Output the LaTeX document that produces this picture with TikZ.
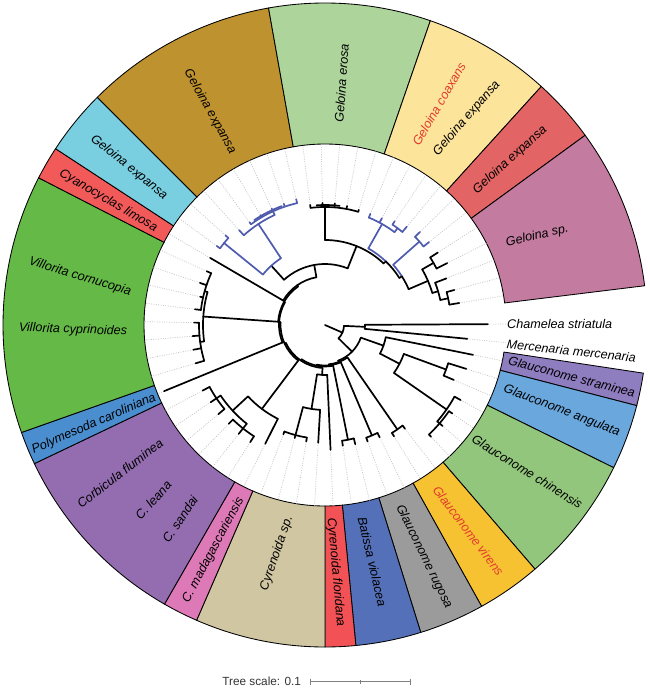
\documentclass[tikz,border=0pt]{standalone}
\usepackage{fontspec}
\setmainfont{Liberation Sans}
\definecolor{cSp}{HTML}{C47BA0}
\definecolor{cRedA}{HTML}{E36464}
\definecolor{cYel}{HTML}{FDE49B}
\definecolor{cEro}{HTML}{ADD59B}
\definecolor{cBrn}{HTML}{BF9230}
\definecolor{cCyn}{HTML}{79CEE0}
\definecolor{cRedB}{HTML}{F25A5A}
\definecolor{cVil}{HTML}{65BA47}
\definecolor{cPol}{HTML}{4A8ECF}
\definecolor{cCor}{HTML}{936DB0}
\definecolor{cPnk}{HTML}{DC79B6}
\definecolor{cTan}{HTML}{D1C6A2}
\definecolor{cRedC}{HTML}{F25255}
\definecolor{cBat}{HTML}{5470B8}
\definecolor{cGry}{HTML}{9B9B9B}
\definecolor{cVir}{HTML}{F6C232}
\definecolor{cChi}{HTML}{92C67C}
\definecolor{cAng}{HTML}{69A7DC}
\definecolor{cStr}{HTML}{8E7DBF}
\definecolor{treeblue}{HTML}{4E5BAE}
\definecolor{labred}{HTML}{E23B2E}
\definecolor{dotgray}{HTML}{C4C4C4}
\newcommand\ringsec[3]{\filldraw[secst, fill=#3] (#1:181pt) arc[start angle=#1, end angle=#2, radius=181pt] -- (#2:322pt) arc[start angle=#2, end angle=#1, radius=322pt] -- cycle;}
\newcommand\trrad[4][tr]{\draw[#1] (#2:#3pt) -- (#2:#4pt);}
\newcommand\trarc[4][tr]{\draw[#1] (#2:#4pt) arc[start angle=#2, end angle=#3, radius=#4pt];}
\newcommand\tleaf[4][tr]{\draw[dotl] (#2:#4pt) -- (#2:181pt); \draw[#1] (#2:#3pt) -- (#2:#4pt);}
\begin{document}
\begin{tikzpicture}[x=1pt,y=1pt,
  tr/.style={line width=1.7pt, line cap=round, black},
  trb/.style={line width=1.7pt, line cap=round, color=treeblue},
  dotl/.style={line width=0.7pt, dash pattern=on 1pt off 1.4pt, color=dotgray},
  secst/.style={draw=black, line width=0.85pt},
  lab/.style={font=\fontsize{12.6}{14}\selectfont\itshape, inner sep=0pt}]
\useasboundingbox (-325,-363) rectangle (325,325);
% ---------- ring of coloured ranges ----------
\ringsec{-8.6}{-14.5}{cStr}
\ringsec{-14.5}{-26.3}{cAng}
\ringsec{-26.3}{-49.3}{cChi}
\ringsec{-49.3}{-60.9}{cVir}
\ringsec{-60.9}{-72.7}{cGry}
\ringsec{-72.7}{-84.5}{cBat}
\ringsec{-84.5}{-90}{cRedC}
\ringsec{-90}{-113.5}{cTan}
\ringsec{-113.5}{-119.9}{cPnk}
\ringsec{-119.9}{-154.5}{cCor}
\ringsec{-154.5}{-160.5}{cPol}
\ringsec{-160.5}{-207.2}{cVil}
\ringsec{-207.2}{-213.2}{cRedB}
\ringsec{-213.2}{-225}{cCyn}
\ringsec{-225}{-259.9}{cBrn}
\ringsec{-259.9}{-289.1}{cEro}
\ringsec{-289.1}{-312.2}{cYel}
\ringsec{-312.2}{-323.9}{cRedA}
\ringsec{-323.9}{-353}{cSp}
% ---------- labels ----------
\node[lab, rotate=13] (l1) at (212.3,89) {Geloina sp.};
\node[lab, rotate=42] (l2) at (185,165) {Geloina expansa};
\node[lab, rotate=60, text=labred] (l3) at (114,221) {Geloina coaxans};
\node[lab, rotate=49] (l4) at (141.7,206.7) {Geloina expansa};
\node[lab, rotate=86] (l5) at (16.7,241.7) {Geloina erosa};
\node[lab, rotate=-61] (l6) at (-115,213.3) {Geloina expansa};
\node[lab, rotate=-39] (l7) at (-196,157.7) {Geloina expansa};
\node[lab, rotate=-30.5] (l8) at (-216.7,124.3) {Cyanocyclas limosa};
\node[lab, rotate=-17] (l9) at (-245,48.3) {Villorita cornucopia};
\node[lab, rotate=-2] (l10) at (-252,-5) {Villorita cyprinoides};
\node[lab, rotate=23.5] (l11) at (-231,-99) {Polymesoda caroliniana};
\node[lab, rotate=37.5] (l12) at (-205,-148.3) {Corbicula fluminea};
\node[lab, rotate=48] (l13) at (-171.7,-175) {C. leana};
\node[lab, rotate=56] (l14) at (-145,-194.3) {C. sandai};
\node[lab, rotate=62] (l15) at (-111.7,-225) {C. madagascariensis};
\node[lab, rotate=71] (l16) at (-48.3,-228.3) {Cyrenoida sp.};
\node[lab, rotate=-85] (l17) at (10.7,-247.3) {Cyrenoida floridana};
\node[lab, rotate=-77] (l18) at (47.3,-236.7) {Batissa violacea};
\node[lab, rotate=-64] (l19) at (99,-231.7) {Glauconome rugosa};
\node[lab, rotate=-53, text=labred] (l20) at (143.3,-205.7) {Glauconome virens};
\node[lab, rotate=-32] (l21) at (202.3,-146.7) {Glauconome chinensis};
\node[lab, rotate=-21] (l22) at (236.7,-85.7) {Glauconome angulata};
\node[lab, rotate=-14.5] (l23) at (246.7,-51.7) {Glauconome straminea};
\node[lab, rotate=-6, anchor=west] (l24) at (181.7,-19) {Mercenaria mercenaria};
\node[lab, anchor=west] (l25) at (182,1.5) {Chamelea striatula};
% ---------- tree scale ----------
\node[font=\fontsize{11.8}{13}\selectfont, text=black!80, inner sep=0pt] (ts) at (-63.3,-356.7) {Tree scale: 0.1};
\draw[gray, line width=0.7pt] (-15,-356.7) -- (85,-356.7);
\draw[gray, line width=0.7pt] (-15,-353.7) -- (-15,-359.7) (35,-354.7) -- (35,-358.7) (85,-353.7) -- (85,-359.7);
% ---------- tree ----------
% root, N1, N2
\trrad{-23.6}{0}{19}
\trarc{-2.625}{-44.6}{19}
\trrad{-2.625}{19}{40}
\trarc{0.3}{-5.55}{40}
\draw[dotl] (0.3:163pt) -- (0.3:183pt);
\trrad{0.3}{40}{163}
\draw[dotl] (-5.55:143pt) -- (-5.55:182pt);
\trrad{-5.55}{40}{143}
% L_G and Glauconome
\trrad{-44.6}{19}{38}
\trarc{-19.44}{-69.75}{38}
\trrad{-19.44}{38}{62}
\trarc{-11.4}{-27.49}{62}
\tleaf{-11.4}{62}{151}
\trrad{-27.49}{62}{84}
\trarc{-20.175}{-34.8}{84}
\trrad{-20.175}{84}{129}
\trarc{-17.25}{-23.1}{129}
\tleaf{-17.25}{129}{148}
\tleaf{-23.1}{129}{140}
\trrad{-34.8}{84}{148}
\trarc{-28.95}{-40.65}{148}
\tleaf{-28.95}{148}{155}
\trrad{-40.65}{148}{151}
\trarc{-34.8}{-46.5}{151}
\tleaf{-34.8}{151}{155}
\tleaf{-40.65}{151}{155}
\tleaf{-46.5}{151}{154}
% L_v virens
\trrad{-69.75}{38}{39.5}
\trarc{-55.275}{-84.23}{39.5}
\trrad{-55.275}{39.5}{127}
\trarc{-52.35}{-58.2}{127}
\tleaf{-52.35}{127}{131}
\tleaf{-58.2}{127}{131}
% L_r rugosa
\trrad{-84.23}{39.5}{40.5}
\trarc{-66.975}{-101.48}{40.5}
\trrad{-66.975}{40.5}{120}
\trarc{-64.05}{-69.9}{120}
\tleaf{-64.05}{120}{125}
\tleaf{-69.9}{120}{124}
% L_b Batissa
\trrad{-101.48}{40.5}{41.5}
\trarc{-78.675}{-124.28}{41.5}
\trrad{-78.675}{41.5}{117}
\trarc{-75.75}{-81.6}{117}
\tleaf{-75.75}{117}{123}
\tleaf{-81.6}{117}{122}
% L_B Cyrenoida
\trrad{-124.28}{41.5}{43}
\trarc{-93.3}{-155.26}{43}
\trrad{-93.3}{43}{50}
\trarc{-87.45}{-99.15}{50}
\tleaf{-87.45}{50}{125}
\trrad{-99.15}{50}{85}
\trarc{-93.3}{-105}{85}
\tleaf{-93.3}{85}{118}
\trrad{-105}{85}{114}
\trarc{-99.15}{-110.85}{114}
\tleaf{-99.15}{114}{118}
\tleaf{-105}{114}{117}
\tleaf{-110.85}{114}{117}
% L_P Corbicula
\trrad{-155.26}{43}{44.5}
\trarc{-126.94}{-183.58}{44.5}
\trrad{-126.94}{44.5}{105}
\trarc{-116.7}{-137.175}{105}
\tleaf{-116.7}{105}{133}
\trrad{-137.175}{105}{126}
\trarc{-128.4}{-145.95}{126}
\trrad{-128.4}{126}{132}
\trarc{-122.55}{-134.25}{132}
\tleaf{-122.55}{132}{139}
\tleaf{-128.4}{132}{139}
\tleaf{-134.25}{132}{138}
\trrad{-145.95}{126}{131}
\trarc{-140.1}{-151.8}{131}
\tleaf{-140.1}{131}{139}
\tleaf{-145.95}{131}{138}
\tleaf{-151.8}{131}{139}
% L_Po Polymesoda
\trrad{-183.58}{44.5}{46}
\trarc{-157.65}{-209.52}{46}
\tleaf{-157.65}{46}{174}
% L_V Villorita
\trrad{-209.52}{46}{47}
\trarc{-183.975}{-235.06}{47}
\trrad{-183.975}{47}{122}
\trarc{-172.275}{-195.675}{122}
\trrad{-172.275}{122}{126}
\trarc{-163.5}{-181.05}{126}
\tleaf{-163.5}{126}{135}
\tleaf{-169.35}{126}{134}
\tleaf{-175.2}{126}{133}
\tleaf{-181.05}{126}{131}
\trrad{-195.675}{122}{125}
\trarc{-186.9}{-204.45}{125}
\tleaf{-186.9}{125}{131}
\tleaf{-192.75}{125}{128}
\tleaf{-198.6}{125}{132}
\tleaf{-204.45}{125}{130}
% L_C Cyanocyclas
\trrad{-235.06}{47}{48.5}
\trarc{-210.3}{-259.82}{48.5}
\tleaf{-210.3}{48.5}{133}
% L_X
\trrad{-259.82}{48.5}{61}
\trarc{-227.84}{-291.8}{61}
% X (blue clade)
\trrad{-227.84}{61}{80}
\trarc[trb]{-219.075}{-236.6}{80}
\trrad[trb]{-219.075}{80}{130}
\trarc[trb]{-216.15}{-222}{130}
\tleaf[trb]{-216.15}{130}{134}
\tleaf[trb]{-222}{130}{134}
\trrad[trb]{-236.6}{80}{121}
\trarc[trb]{-227.85}{-245.4}{121}
\tleaf[trb]{-227.85}{121}{128}
\trrad[trb]{-245.4}{121}{125}
\trarc[trb]{-233.7}{-257.1}{125}
\trarc[trb]{-236}{-250}{126.5}
\tleaf[trb]{-233.7}{125}{127.5}
\tleaf[trb]{-239.55}{125}{127.5}
\tleaf[trb]{-245.4}{125}{128}
\tleaf[trb]{-251.25}{125}{128}
\tleaf[trb]{-257.1}{125}{129}
% T (top clades)
\trrad{-291.8}{61}{85}
\trarc{-270}{-313.59}{85}
\trrad{-270}{85}{118}
\trarc{-262.95}{-286.35}{118}
\trarc{-266}{-277}{120}
\tleaf{-262.95}{118}{121}
\tleaf{-268.8}{118}{122}
\tleaf{-274.65}{118}{122}
\tleaf{-280.5}{118}{121}
\tleaf{-286.35}{118}{120}
\trrad{-313.59}{85}{88}
\trarc[trb]{-299.5}{-313.59}{88}
\trarc{-313.59}{-327.67}{88}
\trrad[trb]{-299.5}{88}{116}
\trarc[trb]{-292.2}{-306.825}{116}
\tleaf[trb]{-292.2}{116}{120}
\tleaf[trb]{-298.05}{116}{121}
\trrad[trb]{-306.825}{116}{121}
\trarc[trb]{-303.9}{-309.75}{121}
\tleaf[trb]{-303.9}{121}{125}
\tleaf[trb]{-309.75}{121}{128}
\trrad{-327.67}{88}{91}
\trarc[trb]{-318.525}{-327.67}{91}
\trarc{-327.67}{-336.81}{91}
\trrad[trb]{-318.525}{91}{126}
\trarc[trb]{-315.6}{-321.45}{126}
\tleaf[trb]{-315.6}{126}{133}
\tleaf[trb]{-321.45}{126}{133}
\trrad{-336.81}{91}{112}
\trarc{-330.225}{-343.39}{112}
\trrad{-330.225}{112}{125}
\trarc{-327.3}{-333.15}{125}
\tleaf{-327.3}{125}{134}
\tleaf{-333.15}{125}{137}
\trrad{-343.39}{112}{118}
\trarc{-339}{-347.775}{118}
\tleaf{-339}{118}{130}
\trrad{-347.775}{118}{126}
\trarc{-344.85}{-350.7}{126}
\tleaf{-344.85}{126}{134}
\tleaf{-350.7}{126}{136}
\end{tikzpicture}
\end{document}
